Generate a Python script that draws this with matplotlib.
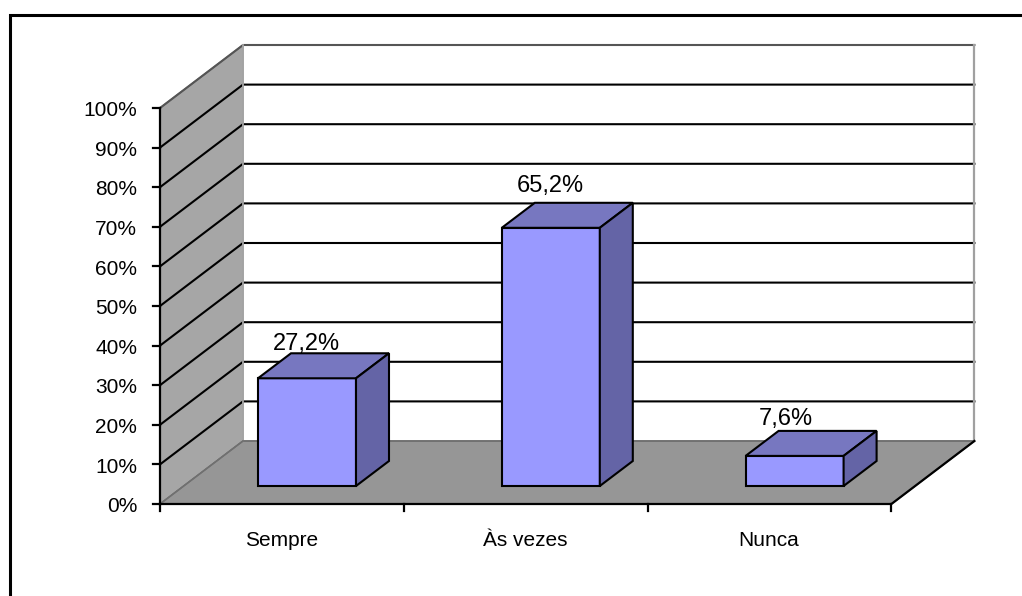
import matplotlib
matplotlib.use("Agg")
import matplotlib.pyplot as plt
from matplotlib.patches import Polygon

plt.rcParams['font.family'] = ['Liberation Sans', 'DejaVu Sans']

categories = ["Sempre", "Às vezes", "Nunca"]
values = [27.2, 65.2, 7.6]
labels = ["27,2%", "65,2%", "7,6%"]
yticks = [0, 10, 20, 30, 40, 50, 60, 70, 80, 90, 100]

W, H = 1022, 596
# scale of the category and percent axes, in pixels per unit
x0, y0 = 160, 504
xunit = 243.8
yunit = 3.96
# depth of the floor and of a bar, in data units
dx, dy = 83 / xunit, 63 / yunit
bx, by = 33 / xunit, 25 / yunit
bar_w = 98 / xunit
bar_off = 18 / yunit
# value label nudges in pixels
label_dx = [-1, 0, -9]
label_dy = [3, 11, 6]

fig = plt.figure(figsize=(W / 100, H / 100), dpi=100)
ax = fig.add_axes([0, 0, 1, 1])
ax.set_xlim(-x0 / xunit, (W - x0) / xunit)
ax.set_ylim(-(H - y0) / yunit, y0 / yunit)
ax.axis("off")

n = len(categories)
lw = 1.5


def poly(pts, face, edge="black", width=lw, z=1):
    ax.add_patch(Polygon(pts, closed=True, facecolor=face, edgecolor=edge,
                         linewidth=width, joinstyle="miter", zorder=z))


fx = lambda px: (px - x0) / xunit
fy = lambda py: (y0 - py) / yunit

# outer chart frame, runs off the right and bottom
ax.plot([fx(1030), fx(10.5), fx(10.5)], [fy(14.5), fy(14.5), fy(600)],
        color="black", lw=2.2, zorder=5, solid_joinstyle="miter")

# side wall and floor
poly([(0, 0), (dx, dy), (dx, 100 + dy), (0, 100)], "#a6a6a6", edge="#707070", width=1.1, z=1)
poly([(0, 0), (dx, dy), (n + dx, dy), (n, 0)], "#969696", edge="#707070", width=1.1, z=1)

# gridlines along the side wall and back wall
for t in yticks[1:]:
    c = "#555555" if t == 100 else "black"
    ax.plot([0, dx, n + dx], [t, t + dy, t + dy], color=c, lw=1.5, zorder=2,
            solid_joinstyle="miter")
ax.plot([dx, dx], [dy, 100 + dy], color="#a8a8a8", lw=1.3, zorder=2)
ax.plot([n + dx, n + dx], [dy, 100 + dy], color="#a0a0a0", lw=1.6, zorder=2)
ax.plot([dx, n + dx], [dy, dy], color="#707070", lw=1.2, zorder=3)
ax.plot([0, dx], [0, dy], color="#707070", lw=1, zorder=3)

# front axes with tick marks
ax.plot([0, 0], [0, 100], color="black", lw=1.6, zorder=4)
ax.plot([0, n, n + dx], [0, 0, dy], color="black", lw=1.6, zorder=4)
for t in yticks:
    ax.plot([-7 / xunit, 0], [t, t], color="black", lw=1.6, zorder=4)
    ax.text(-23 / xunit, t - 0.7, f"{t}%", ha="right", va="center", fontsize=15, color="black")
for i in range(n + 1):
    ax.plot([i, i], [0, -7 / yunit], color="black", lw=1.6, zorder=4)

# 3-d bars
for i, (c, v, s) in enumerate(zip(categories, values, labels)):
    l = i + 98 / xunit
    r = l + bar_w
    b = bar_off
    t = b + v
    poly([(l, b), (r, b), (r, t), (l, t)], "#9999ff", z=6)
    poly([(l, t), (r, t), (r + bx, t + by), (l + bx, t + by)], "#7777c0", z=6)
    poly([(r, b), (r + bx, b + by), (r + bx, t + by), (r, t)], "#6464a6", z=6)
    ax.text(l + (49 + label_dx[i]) / xunit, t + by + label_dy[i] / yunit, s, ha="center",
            va="baseline", fontsize=17, color="black", zorder=7)
    ax.text(i + 0.5 - 0.002, -36 / yunit, c, ha="center", va="center", fontsize=15, color="black")

fig.savefig("out.png", dpi=100)
